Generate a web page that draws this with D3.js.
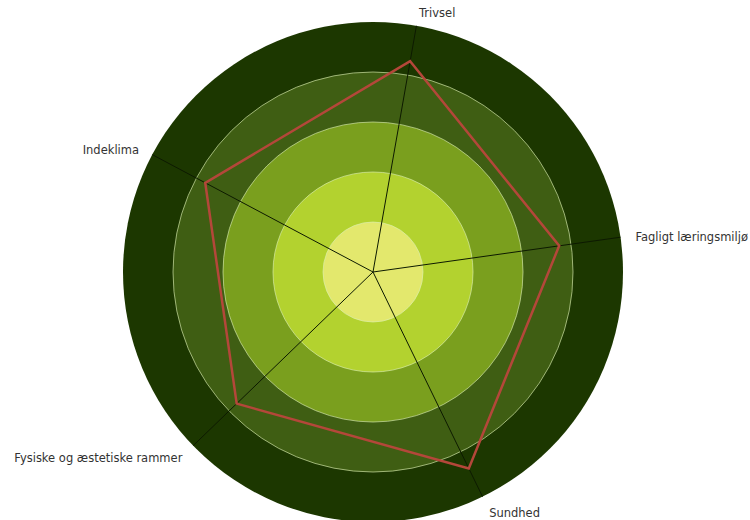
<!DOCTYPE html>
<html>
<head>
<meta charset="utf-8">
<script src="https://cdn.jsdelivr.net/npm/d3@7"></script>
<style>
  body { margin: 0; background: #fff; }
  .axis-label { font-family: "DejaVu Sans", Verdana, sans-serif; font-size: 11.5px; fill: #333; }
</style>
</head>
<body>
<div id="radar"></div>
<script>
// categories in clockwise order, starting at the top
var categories = ["Trivsel", "Fagligt læringsmiljø", "Sundhed", "Fysiske og æstetiske rammer", "Indeklima"];
var values = [4.28, 3.76, 4.37, 3.79, 3.8];
var levels = [1, 2, 3, 4, 5];
var levelColors = ["#e3e86d", "#b3d22f", "#7a9f1e", "#3f5e13", "#1c3700"];

var width = 750, height = 520;
var cx = 373, cy = 272, radius = 250;
var rotation = 10 * Math.PI / 180;

var svg = d3.select("#radar")
  .append("svg")
    .attr("width", width)
    .attr("height", height)
  .append("g")
    .attr("transform", "translate(" + cx + "," + cy + ")");

var r = d3.scaleLinear()
  .domain([0, 5])
  .range([0, radius]);

var angle = d3.scaleLinear()
  .domain([0, categories.length])
  .range([rotation, rotation + 2 * Math.PI]);

// rings, biggest first so the smaller ones sit on top
svg.append("g")
  .selectAll("circle")
  .data(levels.slice().reverse())
  .enter()
    .append("circle")
    .attr("r", d => r(d))
    .attr("fill", d => levelColors[d - 1])
    .attr("stroke", d => d === 5 ? "none" : "rgba(220,240,180,0.8)")
    .attr("stroke-width", 0.8);

// axis lines
svg.append("g")
  .selectAll("line")
  .data(categories)
  .enter()
    .append("line")
    .attr("x1", 0)
    .attr("y1", 0)
    .attr("x2", (d, i) => r(5) * Math.sin(angle(i)))
    .attr("y2", (d, i) => -r(5) * Math.cos(angle(i)))
    .attr("stroke", "#0d1a00")
    .attr("stroke-width", 1);

// the data polygon
var line = d3.lineRadial()
  .angle((d, i) => angle(i))
  .radius(d => r(d))
  .curve(d3.curveLinearClosed);

svg.append("path")
  .datum(values)
  .attr("d", line)
  .attr("fill", "none")
  .attr("stroke", "#b4473a")
  .attr("stroke-width", 2.5);

// labels
svg.append("g")
  .selectAll("text")
  .data(categories)
  .enter()
    .append("text")
    .attr("class", "axis-label")
    .attr("x", (d, i) => (radius + 15) * Math.sin(angle(i)))
    .attr("y", (d, i) => -(radius + 15) * Math.cos(angle(i)))
    .attr("dy", "0.55em")
    .attr("text-anchor", (d, i) => Math.sin(angle(i)) >= 0 ? "start" : "end")
    .text(d => d);
</script>
</body>
</html>
